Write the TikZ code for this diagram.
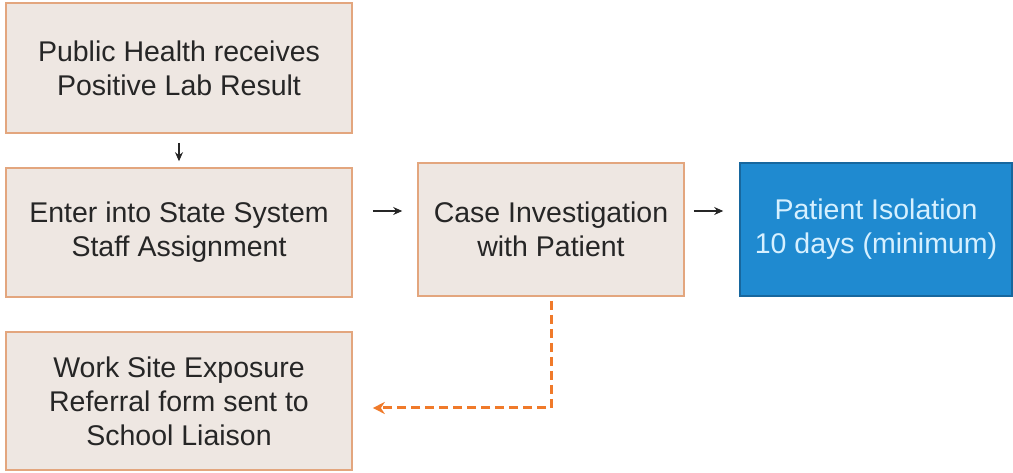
\documentclass[tikz,border=0pt]{standalone}
\usepackage{fontspec}
\setmainfont{Liberation Sans}
\usetikzlibrary{arrows.meta}
\definecolor{boxfill}{HTML}{EEE7E2}
\definecolor{boxline}{HTML}{E3A67E}
\definecolor{bluefill}{HTML}{1F8AD0}
\definecolor{blueline}{HTML}{17679E}
\definecolor{bluetext}{HTML}{D6F0FF}
\definecolor{inktext}{HTML}{262626}
\definecolor{dashorange}{HTML}{F07A2A}
\begin{document}
\begin{tikzpicture}[x=1pt,y=1pt,
  stepbox/.style={draw=boxline, line width=1.6pt, fill=boxfill, inner sep=0pt,
    text=inktext, align=center,
    font=\fontsize{28.5}{34}\selectfont},
  bluebox/.style={draw=blueline, line width=1.6pt, fill=bluefill, inner sep=0pt,
    text=bluetext, align=center,
    font=\fontsize{28.5}{34}\selectfont},
  flow/.style={-{Stealth[length=9pt,width=8pt]}, line width=1.1pt, black!85},
  referral/.style={-{Stealth[length=12pt,width=12pt]}, dashorange, line width=3pt,
    dash pattern=on 9pt off 5pt}]
\useasboundingbox (0,0) rectangle (1013,473);
\fill[white] (0,0) rectangle (1013,473);

% boxes (centres and sizes in pt, y measured from the bottom)
\node[stepbox, minimum width=346pt, minimum height=130pt] (lab) at (179,405) {Public Health receives\\Positive Lab Result};
\node[stepbox, minimum width=346pt, minimum height=129pt] (enter) at (179,240.5) {Enter into State System\\Staff Assignment};
\node[stepbox, minimum width=266pt, minimum height=133pt] (case) at (551,243.5) {Case Investigation\\with Patient};
\node[bluebox, minimum width=272pt, minimum height=133pt] (iso) at (876,243.5) {Patient Isolation\\10 days (minimum)};
\node[stepbox, minimum width=346pt, minimum height=138pt] (work) at (179,72) {Work Site Exposure\\Referral form sent to\\School Liaison};

% connectors; the horizontal arrows run above the box centres
\coordinate (row) at (0,262);
\coordinate (bend) at (551,65);
\draw[flow] ([yshift=-9pt]lab.south) -- ([yshift=6pt]enter.north);
\draw[flow] ([xshift=20pt]enter.east |- row) -- ([xshift=-15pt]case.west |- row);
\draw[flow] ([xshift=9pt]case.east |- row) -- ([xshift=-16pt]iso.west |- row);
\draw[referral] ([yshift=-4pt]case.south) -- (bend) -- ([xshift=20pt]work.east |- bend);
\end{tikzpicture}
\end{document}
